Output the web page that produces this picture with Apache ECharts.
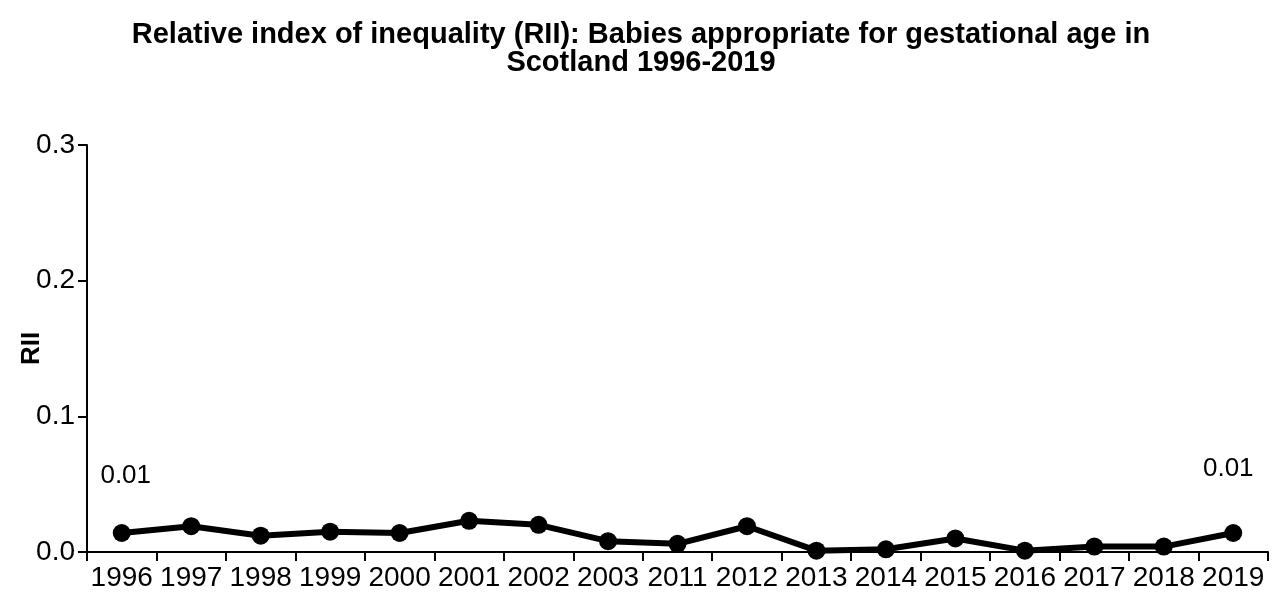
<!DOCTYPE html>
<html>
<head>
<meta charset="utf-8">
<script src="https://cdn.jsdelivr.net/npm/echarts@6/dist/echarts.min.js"></script>
<style>
  html, body { margin: 0; padding: 0; background: #fff; }
  #chart { width: 1282px; height: 603px; }
</style>
</head>
<body>
<div id="chart"></div>
<script>
// Years with RII estimates
const years = ['1996', '1997', '1998', '1999', '2000', '2001', '2002', '2003', '2011',
               '2012', '2013', '2014', '2015', '2016', '2017', '2018', '2019'];
// Relative index of inequality, babies appropriate for gestational age
const rii = [0.014, 0.019, 0.012, 0.015, 0.014, 0.023, 0.020, 0.008, 0.006,
             0.019, 0.001, 0.002, 0.010, 0.001, 0.004, 0.004, 0.014];
// Value axis ticks
const yTicks = [0.0, 0.1, 0.2, 0.3];
// Points that carry a value label (first and last year)
const labelledYears = ['1996', '2019'];

const font = 'Liberation Sans, Arial, sans-serif';

const seriesData = rii.map((v, i) => {
  if (labelledYears.indexOf(years[i]) === -1) return v;
  const first = i === 0;
  return {
    value: v,
    label: {
      show: true,
      position: 'top',
      distance: first ? 35 : 42,
      offset: [first ? 4 : -5, 0],
      formatter: p => p.value.toFixed(2),
      fontFamily: font,
      fontSize: 26,
      color: '#000'
    }
  };
});

const chart = echarts.init(document.getElementById('chart'), null, { renderer: 'canvas' });
chart.setOption({
  backgroundColor: '#fff',
  animation: false,
  title: {
    text: 'Relative index of inequality (RII): Babies appropriate for gestational age in\nScotland 1996-2019',
    left: 'center',
    top: 16,
    textStyle: {
      fontFamily: font,
      fontSize: 29,
      fontWeight: 'bold',
      color: '#000',
      lineHeight: 28
    }
  },
  grid: { left: 87, right: 14, top: 145, bottom: 51, containLabel: false },
  xAxis: {
    type: 'category',
    data: years,
    boundaryGap: true,
    axisLine: { lineStyle: { color: '#000', width: 2 } },
    axisTick: { show: true, length: 9, lineStyle: { color: '#000', width: 2 } },
    axisLabel: { fontFamily: font, fontSize: 28, color: '#000', margin: 12, interval: 0 }
  },
  yAxis: {
    type: 'value',
    min: yTicks[0],
    max: yTicks[yTicks.length - 1],
    interval: 0.1,
    name: 'RII',
    nameLocation: 'middle',
    nameGap: 42,
    nameRotate: 90,
    nameMoveOverlap: false,
    nameTextStyle: { fontFamily: font, fontSize: 26, fontWeight: 'bold', color: '#000' },
    splitLine: { show: false },
    axisLine: { show: true, lineStyle: { color: '#000', width: 2 } },
    axisTick: { show: true, length: 9, lineStyle: { color: '#000', width: 2 } },
    axisLabel: {
      fontFamily: font, fontSize: 28, color: '#000', margin: 12,
      formatter: v => v.toFixed(1)
    }
  },
  series: [{
    type: 'line',
    data: seriesData,
    symbol: 'circle',
    symbolSize: 18,
    lineStyle: { color: '#000', width: 6 },
    itemStyle: { color: '#000' },
    label: { show: false }
  }]
});
</script>
</body>
</html>
